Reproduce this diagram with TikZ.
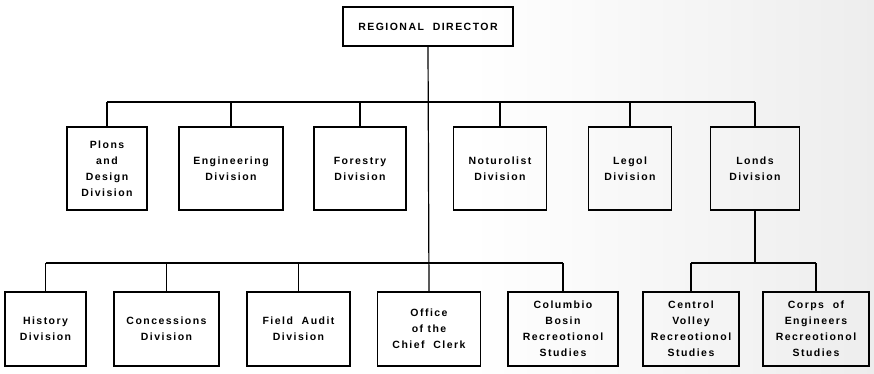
\documentclass[tikz,border=0pt]{standalone}
\usepackage{fontspec}
\setmainfont{Liberation Sans}[LetterSpace=14]
\begin{document}
\begin{tikzpicture}[x=1pt,y=-1pt,
  unit/.style={draw, line width=1.2pt, inner sep=0pt, align=center,
    font=\bfseries\fontsize{10.5}{16}\selectfont},
  row1/.style={unit, minimum height=83pt},
  row2/.style={unit, minimum height=74pt},
  link/.style={line width=1.2pt}]
% page with a soft grey tint growing towards the right edge
\useasboundingbox (0,0) rectangle (874,374);
\fill[white] (0,0) rectangle (874,374);
\shade[left color=white, right color=black!7] (470,0) rectangle (874,374);

% director
\node[unit, minimum width=170pt, minimum height=39pt] (dir) at (428,26.5) {REGIONAL\ \ DIRECTOR};

% first tier of divisions
\node[row1, minimum width=80pt]  (plans) at (107,168.5) {Plons\\and\\Design\\Division};
\node[row1, minimum width=104pt] (eng)   at (231,168.5) {Engineering\\Division};
\node[row1, minimum width=92pt]  (for)   at (360,168.5) {Forestry\\Division};
\node[row1, minimum width=93pt]  (nat)   at (500,168.5) {Noturolist\\Division};
\node[row1, minimum width=83pt]  (legal) at (630,168.5) {Legol\\Division};
\node[row1, minimum width=89pt]  (lands) at (755,168.5) {Londs\\Division};

% second tier
\node[row2, minimum width=81pt]  (hist)  at (45.5,329) {History\\Division};
\node[row2, minimum width=105pt] (conc)  at (166.5,329) {Concessions\\Division};
\node[row2, minimum width=103pt] (audit) at (298.5,329) {Field\ \ Audit\\Division};
\node[row2, minimum width=103pt] (clerk) at (429,329) {Office\\of the\\Chief\ \ Clerk};
\node[row2, minimum width=110pt] (col)   at (563,329) {Columbio\\Bosin\\Recreotionol\\Studies};
\node[row2, minimum width=96pt]  (cv)    at (691,329) {Centrol\\Volley\\Recreotionol\\Studies};
\node[row2, minimum width=106pt] (corps) at (816,329) {Corps\ \ of\\Engineers\\Recreotionol\\Studies};

% bus levels
\coordinate (busA) at (0,102);
\coordinate (busB) at (0,263);

% trunk from the director down to the chief clerk
\draw[link] (dir.south) -- (clerk.north);

% first tier bus
\draw[link] (plans.north |- busA) -- (lands.north |- busA);
\foreach \n in {plans,eng,for,nat,legal,lands}
  \draw[link] (\n.north |- busA) -- (\n.north);

% second tier bus
\draw[link] (hist.north |- busB) -- (col.north |- busB);
\foreach \n in {hist,conc,audit,col}
  \draw[link] (\n.north |- busB) -- (\n.north);

% lands sub-units
\draw[link] (lands.south) -- (lands.south |- busB);
\draw[link] (cv.north |- busB) -- (corps.north |- busB);
\foreach \n in {cv,corps}
  \draw[link] (\n.north |- busB) -- (\n.north);
\end{tikzpicture}
\end{document}
